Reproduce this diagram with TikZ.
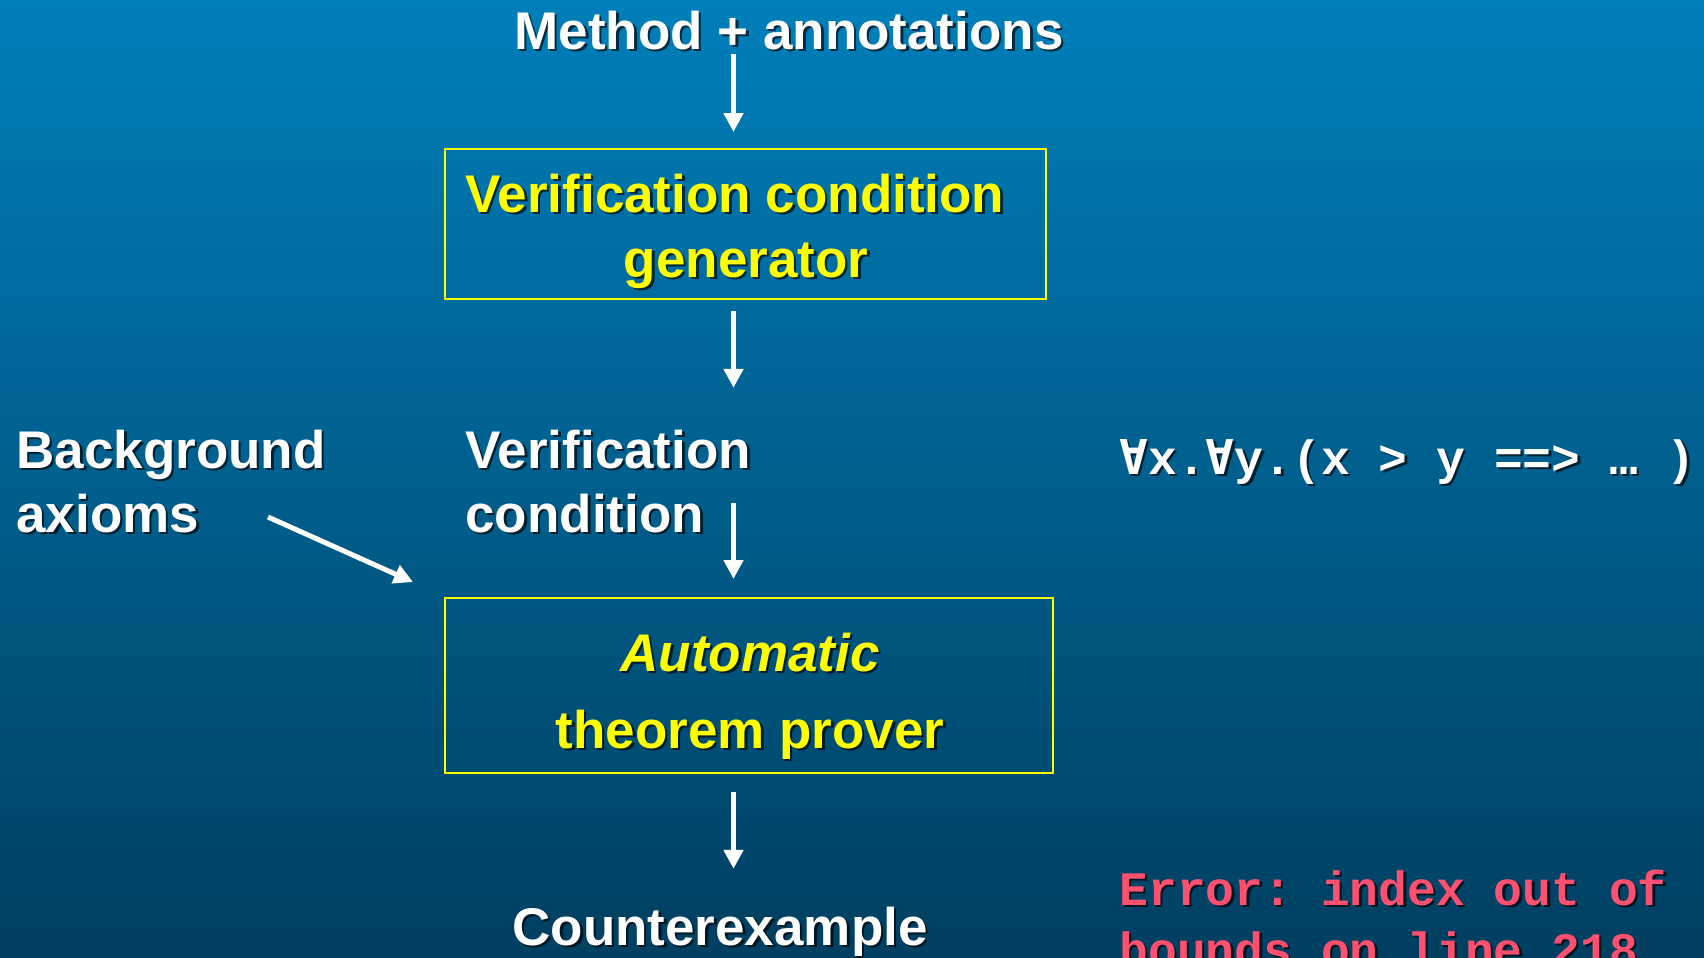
\documentclass[tikz,border=0pt]{standalone}
\usepackage{fontspec}
\setmainfont{Liberation Sans}
\newfontfamily\monof{Liberation Mono}
\newfontfamily\dvmono{DejaVu Sans Mono}
\usetikzlibrary{arrows.meta,calc}
\definecolor{bgtop}{RGB}{0,127,186}
\definecolor{bgbot}{RGB}{0,63,96}
\definecolor{vyel}{RGB}{255,255,0}
\definecolor{errpink}{RGB}{255,80,112}
\frenchspacing
\newcommand{\shnode}[4]{%
  \node[#1, text=black, text opacity=0.65] at ($(#3)+(2.5,2.5)$) {#4};
  \node[#1] (#2) at (#3) {#4};
}
\tikzset{
  wt/.style={text=white, font=\fontsize{26.5}{31}\selectfont\bfseries, inner sep=0pt},
  yt/.style={wt, text=vyel},
  mt/.style={text=white, font=\fontsize{24}{28}\selectfont\monof\bfseries\frenchspacing, inner sep=0pt},
  et/.style={mt, text=errpink},
  box/.style={draw=vyel, line width=1pt, inner sep=0pt, rectangle},
  arr/.style={white, line width=2.5pt, -{Triangle[width=9.5pt,length=9.5pt]}}
}
\begin{document}
\begin{tikzpicture}[x=0.5pt,y=-0.5pt]
\useasboundingbox (0,0) rectangle (1704,958);
\clip (0,0) rectangle (1704,958);
\shade[top color=bgtop, bottom color=bgbot] (0,0) rectangle (1704,958);

% boxes
\node[box, minimum width=300.5pt, minimum height=75pt] (vcg) at (745,224) {};
\node[box, minimum width=304.25pt, minimum height=87.5pt] (atp) at (748.75,685.5) {};

% texts
\shnode{wt, anchor=base}{meth}{789,49}{Method + annotations}
\shnode{yt, anchor=base west}{vcg1}{465,212}{Verification condition}
\shnode{yt, anchor=base}{vcg2}{746,277}{generator}
\shnode{wt, anchor=base west}{bg1}{16,468}{Background}
\shnode{wt, anchor=base west}{bg2}{16,532}{axioms}
\shnode{wt, anchor=base west}{vc1}{465,468}{Verification}
\shnode{wt, anchor=base west}{vc2}{465,532}{condition}
\shnode{yt, anchor=base}{atp1}{750,671}{\itshape Automatic}
\shnode{yt, anchor=base}{atp2}{750,748}{theorem prover}
\shnode{wt, anchor=base}{cex}{720,945}{Counterexample}
\shnode{mt, anchor=base west}{vcf}{1119,474}{{\dvmono ∀}x.{\dvmono ∀}y.(x > y ==> … )}
\shnode{et, anchor=base west}{err1}{1119,905}{Error: index out of}
\shnode{et, anchor=base west}{err2}{1119,966}{bounds on line 218}

% arrows
\coordinate (ax) at (733.5,0);
\coordinate (d1) at (268,517);
\coordinate (d2) at (413,582);
\draw[arr, shorten <=2pt, shorten >=8pt] (meth.south -| ax) -- (vcg.north -| ax);
\draw[arr, shorten <=5.5pt, shorten >=20.7pt] (vcg.south -| ax) -- (vc1.north -| ax);
\draw[arr, shorten <=17pt, shorten >=9pt] (vc1.south -| ax) -- (atp.north -| ax);
\draw[arr, shorten <=9pt, shorten >=18.7pt] (atp.south -| ax) -- (cex.north -| ax);
\draw[arr] (d1) -- (d2);
\end{tikzpicture}
\end{document}
